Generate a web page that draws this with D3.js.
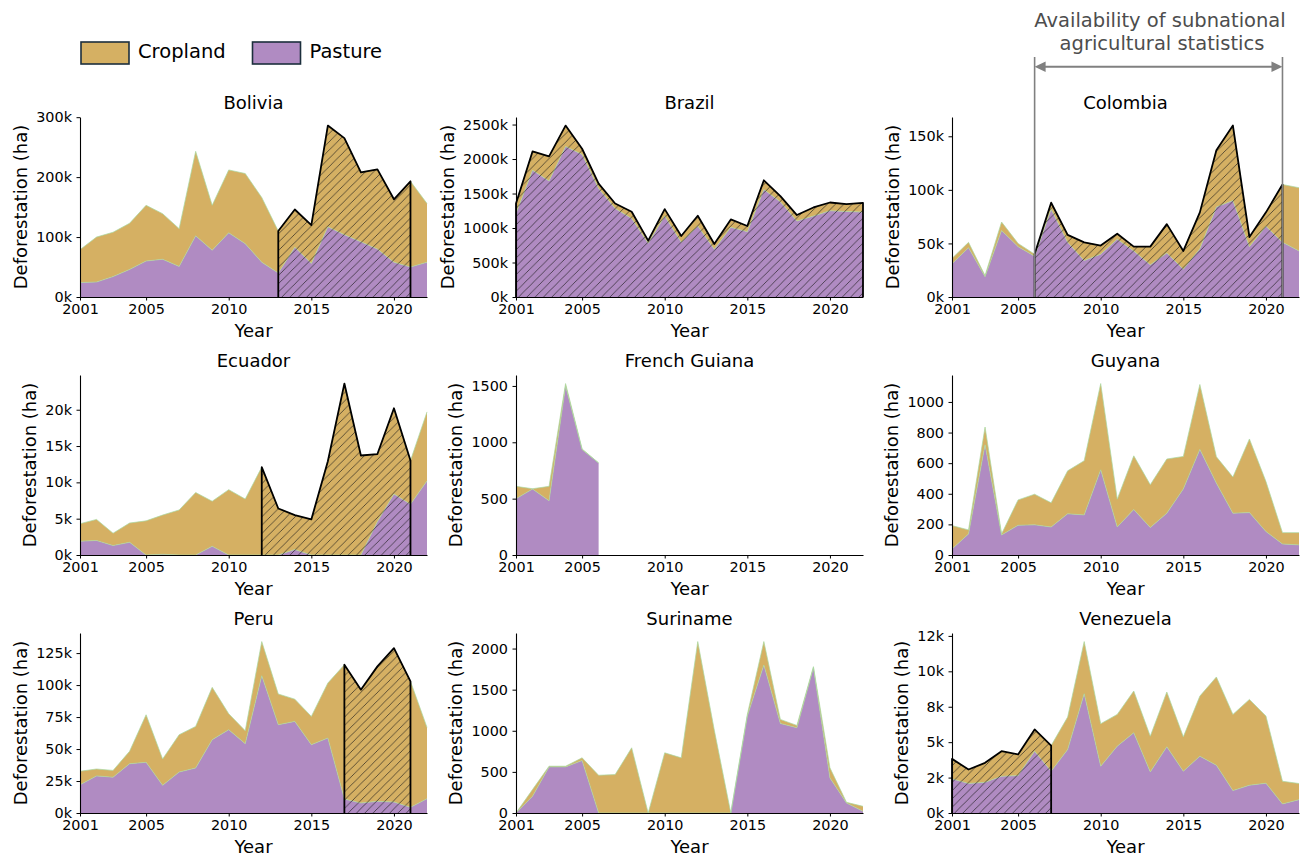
<!DOCTYPE html>
<html>
<head>
<meta charset="utf-8">
<script src="https://cdn.jsdelivr.net/npm/d3@7"></script>
<style>
  body { margin: 0; background: #fff; }
  svg { font-family: "DejaVu Sans", sans-serif; }
</style>
</head>
<body>
<svg id="chart" width="1301" height="859"></svg>
<script>
// ---- data (hectares) ----
const years = [2001, 2002, 2003, 2004, 2005, 2006, 2007, 2008, 2009, 2010, 2011,
               2012, 2013, 2014, 2015, 2016, 2017, 2018, 2019, 2020, 2021, 2022];

const boliviaTotal   = [79000, 100000, 108000, 123000, 153000, 139000, 114000, 243000, 153000, 212000, 206000,
                        166000, 110000, 146000, 120000, 286000, 265000, 208000, 213000, 163000, 193000, 156000];
const boliviaPasture = [24000, 25000, 34000, 46000, 60000, 63000, 51000, 102000, 78000, 107000, 89000,
                        58000, 40000, 83000, 56000, 117000, 104000, 92000, 80000, 58000, 50000, 58000];

const brazilTotal   = [1356000, 2110000, 2038000, 2485000, 2149000, 1644000, 1356000, 1236000, 817000, 1274000, 885000,
                       1178000, 769000, 1125000, 1029000, 1692000, 1462000, 1188000, 1298000, 1370000, 1346000, 1365000];
const brazilPasture = [1212000, 1837000, 1683000, 2183000, 2067000, 1572000, 1284000, 1139000, 779000, 1173000, 793000,
                       1029000, 692000, 1010000, 947000, 1558000, 1380000, 1101000, 1173000, 1250000, 1240000, 1231000];

const colombiaTotal   = [36000, 51000, 20000, 70000, 50000, 40000, 88000, 58000, 51000, 48000, 59000,
                         47000, 47000, 68000, 43000, 79000, 137000, 160000, 56000, 79000, 105000, 102000];
const colombiaPasture = [31000, 46000, 19000, 62000, 47000, 38000, 82000, 51000, 34000, 40000, 54000,
                         43000, 30000, 41000, 26000, 45000, 84000, 90000, 47000, 66000, 51000, 43000];

const ecuadorTotal   = [4300, 4900, 3000, 4400, 4700, 5500, 6200, 8600, 7400, 9000, 7700,
                        12100, 6400, 5500, 4900, 12900, 23600, 13700, 13900, 20200, 13000, 19700];
const ecuadorPasture = [1900, 2000, 1300, 1750, 0, 100, 0, 0, 1200, 0, 0,
                        0, 0, 750, 0, 0, 0, 0, 4600, 8400, 7000, 10200];

const frenchGuianaTotal   = [609, 588, 609, 1521, 941, 817, null, null, null, null, null,
                             null, null, null, null, null, null, null, null, null, null, null];
const frenchGuianaPasture = [499, 585, 481, 1500, 935, 817, null, null, null, null, null,
                             null, null, null, null, null, null, null, null, null, null, null];

const guyanaTotal   = [192, 164, 836, 138, 360, 397, 341, 550, 616, 1120, 365,
                       648, 459, 627, 644, 1114, 642, 509, 758, 480, 146, 146];
const guyanaPasture = [39, 138, 720, 131, 194, 197, 183, 269, 262, 557, 183,
                       297, 179, 273, 432, 690, 469, 273, 277, 153, 72, 66];

const peruTotal   = [32600, 34400, 33300, 48200, 76800, 42200, 61200, 67700, 98200, 77600, 64300,
                     134000, 93000, 89000, 75500, 101600, 115900, 96400, 114600, 128900, 102900, 66900];
const peruPasture = [22000, 29000, 28000, 38500, 39600, 21600, 32000, 35200, 57300, 65100, 54200,
                     107300, 69000, 71600, 53400, 58600, 10900, 7800, 9100, 8600, 4400, 11200];

const surinameTotal   = [0, 285, 569, 569, 671, 459, 467, 793, 0, 732, 671,
                         2085, 1008, 0, 1199, 2085, 1138, 1065, 1780, 549, 130, 81];
const surinamePasture = [0, 203, 561, 561, 638, 0, 0, 0, 0, 0, 0,
                         0, 0, 0, 1179, 1800, 1089, 1037, 1768, 427, 122, 20];

const venezuelaTotal   = [3820, 3070, 3540, 4360, 4130, 5900, 4760, 6770, 12100, 6300, 6960,
                          8610, 5420, 8540, 5380, 8250, 9600, 6960, 8020, 6840, 2240, 2080];
const venezuelaPasture = [2410, 2080, 2170, 2590, 2640, 4360, 2950, 4480, 8420, 3300, 4720,
                          5660, 2900, 4670, 2950, 4010, 3370, 1580, 1960, 2100, 640, 940];

// y ticks and their printed labels
const boliviaTicks = [0, 100000, 200000, 300000];
const boliviaTickLabels = ["0k", "100k", "200k", "300k"];
const brazilTicks = [0, 500000, 1000000, 1500000, 2000000, 2500000];
const brazilTickLabels = ["0k", "500k", "1000k", "1500k", "2000k", "2500k"];
const colombiaTicks = [0, 50000, 100000, 150000];
const colombiaTickLabels = ["0k", "50k", "100k", "150k"];
const ecuadorTicks = [0, 5000, 10000, 15000, 20000];
const ecuadorTickLabels = ["0k", "5k", "10k", "15k", "20k"];
const frenchGuianaTicks = [0, 500, 1000, 1500];
const frenchGuianaTickLabels = ["0", "500", "1000", "1500"];
const guyanaTicks = [0, 200, 400, 600, 800, 1000];
const guyanaTickLabels = ["0", "200", "400", "600", "800", "1000"];
const peruTicks = [0, 25000, 50000, 75000, 100000, 125000];
const peruTickLabels = ["0k", "25k", "50k", "75k", "100k", "125k"];
const surinameTicks = [0, 500, 1000, 1500, 2000];
const surinameTickLabels = ["0", "500", "1000", "1500", "2000"];
const venezuelaTicks = [0, 2500, 5000, 7500, 10000, 12500];
const venezuelaTickLabels = ["0k", "2k", "5k", "8k", "10k", "12k"];

const yearTicks = [2001, 2005, 2010, 2015, 2020];

// years with subnational statistics (hatched)
const boliviaHatch = [2013, 2021];
const brazilHatch = [2001, 2022];
const colombiaHatch = [2006, 2021];
const ecuadorHatch = [2012, 2021];
const peruHatch = [2017, 2021];
const venezuelaHatch = [2001, 2007];

const seriesNames = ["Cropland", "Pasture"];

// ---- layout ----
const colors = { Pasture: "#b08bc2", Cropland: "#d5b063" };
const colX = [80, 516, 952];
const rowY = [117, 375, 633];
const W = 347, H = 180;

const panels = [
  { name: "Bolivia", total: boliviaTotal, pasture: boliviaPasture, ticks: boliviaTicks, labels: boliviaTickLabels, hatch: boliviaHatch },
  { name: "Brazil", total: brazilTotal, pasture: brazilPasture, ticks: brazilTicks, labels: brazilTickLabels, hatch: brazilHatch },
  { name: "Colombia", total: colombiaTotal, pasture: colombiaPasture, ticks: colombiaTicks, labels: colombiaTickLabels, hatch: colombiaHatch },
  { name: "Ecuador", total: ecuadorTotal, pasture: ecuadorPasture, ticks: ecuadorTicks, labels: ecuadorTickLabels, hatch: ecuadorHatch },
  { name: "French Guiana", total: frenchGuianaTotal, pasture: frenchGuianaPasture, ticks: frenchGuianaTicks, labels: frenchGuianaTickLabels, hatch: null },
  { name: "Guyana", total: guyanaTotal, pasture: guyanaPasture, ticks: guyanaTicks, labels: guyanaTickLabels, hatch: null },
  { name: "Peru", total: peruTotal, pasture: peruPasture, ticks: peruTicks, labels: peruTickLabels, hatch: peruHatch },
  { name: "Suriname", total: surinameTotal, pasture: surinamePasture, ticks: surinameTicks, labels: surinameTickLabels, hatch: null },
  { name: "Venezuela", total: venezuelaTotal, pasture: venezuelaPasture, ticks: venezuelaTicks, labels: venezuelaTickLabels, hatch: venezuelaHatch }
];

const svg = d3.select("#chart");

// hatch pattern "//"
const defs = svg.append("defs");
const hs = 8.3;
defs.append("pattern")
    .attr("id", "hatch")
    .attr("patternUnits", "userSpaceOnUse")
    .attr("width", hs).attr("height", hs)
  .append("path")
    .attr("d", `M0,${hs} L${hs},0 M${-hs / 4},${hs / 4} L${hs / 4},${-hs / 4} M${hs * 0.75},${hs * 1.25} L${hs * 1.25},${hs * 0.75}`)
    .attr("stroke", "#1a1a1a")
    .attr("stroke-width", 0.75)
    .attr("stroke-opacity", 0.85);

panels.forEach((p, i) => {
  const left = colX[i % 3], top = rowY[Math.floor(i / 3)];
  const g = svg.append("g").attr("transform", `translate(${left},${top})`);

  const rows = years.map((yr, j) => ({
    year: yr,
    Pasture: p.pasture[j],
    Cropland: p.total[j] == null ? null : p.total[j] - p.pasture[j]
  })).filter(r => r.Pasture != null);

  const x = d3.scaleLinear().domain([2001, 2022]).range([0, W]);
  const y = d3.scaleLinear().domain([0, d3.max(p.total) * 1.05]).range([H, 0]);

  // stacked areas, pasture at the bottom
  const series = d3.stack().keys(["Pasture", "Cropland"])(rows);
  const area = d3.area()
      .x(d => x(d.data.year))
      .y0(d => y(d[0]))
      .y1(d => y(d[1]));

  g.selectAll("path.layer")
    .data(series)
    .join("path")
      .attr("class", "layer")
      .attr("fill", d => colors[d.key])
      .attr("d", area);

  g.selectAll("path.edge")
    .data(series)
    .join("path")
      .attr("class", "edge")
      .attr("fill", "none")
      .attr("stroke", "#a8d8a0")
      .attr("stroke-width", 0.7)
      .attr("d", d3.line().x(d => x(d.data.year)).y(d => y(d[1])));

  // hatched window of subnational data
  if (p.hatch) {
    const span = rows.filter(r => r.year >= p.hatch[0] && r.year <= p.hatch[1]);
    const tot = r => r.Pasture + r.Cropland;
    g.append("path")
      .datum(span)
      .attr("fill", "url(#hatch)")
      .attr("d", d3.area().x(d => x(d.year)).y0(H).y1(d => y(tot(d))));

    const pts = [[x(span[0].year), H]]
      .concat(span.map(d => [x(d.year), y(tot(d))]))
      .concat([[x(span[span.length - 1].year), H]]);
    g.append("path")
      .attr("fill", "none")
      .attr("stroke", "#000")
      .attr("stroke-width", 1.8)
      .attr("stroke-linejoin", "round")
      .attr("d", d3.line()(pts));
  }

  // axes
  const xAxis = g.append("g")
      .attr("transform", `translate(0,${H})`)
      .call(d3.axisBottom(x).tickValues(yearTicks).tickFormat(d3.format("d"))
              .tickSize(3.5).tickSizeOuter(0).tickPadding(3.5));
  const yAxis = g.append("g")
      .call(d3.axisLeft(y).tickValues(p.ticks).tickFormat((d, k) => p.labels[k])
              .tickSize(3.5).tickSizeOuter(0).tickPadding(4.5));

  [xAxis, yAxis].forEach(a => {
    a.selectAll("text").attr("font-size", 14.4).attr("fill", "#000").attr("font-family", "DejaVu Sans");
    a.select(".domain").attr("stroke", "#000").attr("stroke-width", 1.1);
    a.selectAll(".tick line").attr("stroke", "#000").attr("stroke-width", 1);
  });

  // titles and labels
  g.append("text")
    .attr("x", W / 2).attr("y", -8)
    .attr("text-anchor", "middle")
    .attr("font-size", 18)
    .text(p.name);

  g.append("text")
    .attr("x", W / 2).attr("y", H + 39.5)
    .attr("text-anchor", "middle")
    .attr("font-size", 18)
    .text("Year");

  const bb = yAxis.node().getBBox();
  g.append("text")
    .attr("transform", `translate(${bb.x - 9.5},${H / 2}) rotate(-90)`)
    .attr("text-anchor", "middle")
    .attr("font-size", 18)
    .text("Deforestation (ha)");
});

// legend
const legend = svg.append("g");
seriesNames.forEach((s, k) => {
  const lx = k === 0 ? 81 : 252.5;
  legend.append("rect")
    .attr("x", lx).attr("y", 42)
    .attr("width", 48).attr("height", 22)
    .attr("fill", colors[s])
    .attr("stroke", "#1c2f3c")
    .attr("stroke-width", 1.6);
  legend.append("text")
    .attr("x", lx + 57).attr("y", 57.5)
    .attr("font-size", 19.5)
    .text(s);
});

// annotation over Colombia
const ax = d3.scaleLinear().domain([2001, 2022]).range([colX[2], colX[2] + W]);
const ann = svg.append("g");
const gray = "#808080";
[2006, 2021].forEach(yr => {
  ann.append("line")
    .attr("x1", ax(yr)).attr("x2", ax(yr))
    .attr("y1", 57).attr("y2", rowY[0] + H)
    .attr("stroke", gray).attr("stroke-width", 1.6);
});
const ay = 66.7, x0 = ax(2006), x1 = ax(2021), hl = 11, hw = 5.2;
ann.append("line")
  .attr("x1", x0 + hl - 1).attr("x2", x1 - hl + 1)
  .attr("y1", ay).attr("y2", ay)
  .attr("stroke", gray).attr("stroke-width", 2);
ann.append("path")
  .attr("d", `M${x0},${ay} L${x0 + hl},${ay - hw} L${x0 + hl},${ay + hw} Z M${x1},${ay} L${x1 - hl},${ay - hw} L${x1 - hl},${ay + hw} Z`)
  .attr("fill", gray);
ann.append("text")
  .attr("x", 1160).attr("y", 26.5)
  .attr("text-anchor", "middle")
  .attr("font-size", 19.5)
  .attr("fill", "#4d4d4d")
  .text("Availability of subnational");
ann.append("text")
  .attr("x", 1162).attr("y", 50)
  .attr("text-anchor", "middle")
  .attr("font-size", 19.5)
  .attr("fill", "#4d4d4d")
  .text("agricultural statistics");
</script>
</body>
</html>
